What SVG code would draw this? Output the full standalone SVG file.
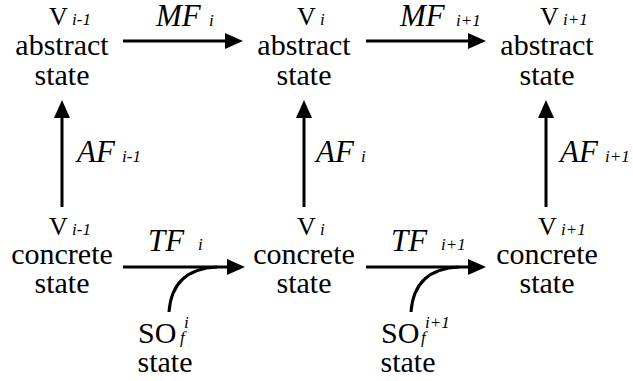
<svg xmlns="http://www.w3.org/2000/svg" width="633" height="381" viewBox="0 0 633 381">
<style>
svg text{font-family:'Liberation Serif','Times New Roman',serif !important;fill:#000}
.t{font-size:30px;text-anchor:middle}
.v{font-size:26px}
.s{font-size:17px;font-style:italic}
.f{font-size:31px;font-style:italic}
.o{font-size:30px}
.c{stroke:#000;stroke-width:3;fill:none}
</style>
<defs>
<marker id="ah" markerUnits="userSpaceOnUse" markerWidth="18" markerHeight="16" refX="0" refY="8" orient="auto" overflow="visible">
<path d="M0,0 L18,8 L0,16 z" fill="#000"/>
</marker>
</defs>
<rect width="633" height="381" fill="#fff"/>
<g id="connectors">
<line class="c" x1="123" y1="41" x2="225" y2="41" marker-end="url(#ah)"/>
<line class="c" x1="366" y1="41" x2="468" y2="41" marker-end="url(#ah)"/>
<line class="c" x1="123" y1="267" x2="227" y2="267" marker-end="url(#ah)"/>
<line class="c" x1="366" y1="267" x2="468" y2="267" marker-end="url(#ah)"/>
<line class="c" x1="62" y1="207" x2="62" y2="118" marker-end="url(#ah)"/>
<line class="c" x1="304" y1="207" x2="304" y2="118" marker-end="url(#ah)"/>
<line class="c" x1="546" y1="207" x2="546" y2="118" marker-end="url(#ah)"/>
<path class="c" d="M169,312 Q172,269 217,267"/>
<path class="c" d="M411,312 Q414,269 459,267"/>
<text class="f" x="156" y="26" style="font-family:'Liberation Serif' !important">MF</text>
<text class="s" x="209" y="26" style="font-family:'Liberation Serif' !important">i</text>
<text class="f" x="400" y="26" style="font-family:'Liberation Serif' !important">MF</text>
<text class="s" x="456" y="26" style="font-family:'Liberation Serif' !important">i+1</text>
<text class="f" x="77" y="162" style="font-family:'Liberation Serif' !important">AF</text>
<text class="s" x="122" y="162" style="font-family:'Liberation Serif' !important">i-1</text>
<text class="f" x="316" y="162" style="font-family:'Liberation Serif' !important">AF</text>
<text class="s" x="361" y="162" style="font-family:'Liberation Serif' !important">i</text>
<text class="f" x="560" y="162" style="font-family:'Liberation Serif' !important">AF</text>
<text class="s" x="605" y="162" style="font-family:'Liberation Serif' !important">i+1</text>
<text class="f" x="148" y="251" style="font-family:'Liberation Serif' !important">TF</text>
<text class="s" x="198" y="250" style="font-family:'Liberation Serif' !important">i</text>
<text class="f" x="391" y="251" style="font-family:'Liberation Serif' !important">TF</text>
<text class="s" x="441" y="250" style="font-family:'Liberation Serif' !important">i+1</text>
</g>
<g id="abs_im1">
<text class="v" x="49" y="25" style="font-family:'Liberation Serif' !important">V</text>
<text class="s" x="72" y="25" style="font-family:'Liberation Serif' !important">i-1</text>
<text class="t" x="62" y="55" style="font-family:'Liberation Serif' !important">abstract</text>
<text class="t" x="62" y="85" style="font-family:'Liberation Serif' !important">state</text>
</g>
<g id="abs_i">
<text class="v" x="297" y="25" style="font-family:'Liberation Serif' !important">V</text>
<text class="s" x="320" y="25" style="font-family:'Liberation Serif' !important">i</text>
<text class="t" x="304" y="55" style="font-family:'Liberation Serif' !important">abstract</text>
<text class="t" x="304" y="85" style="font-family:'Liberation Serif' !important">state</text>
</g>
<g id="abs_ip1">
<text class="v" x="540" y="25" style="font-family:'Liberation Serif' !important">V</text>
<text class="s" x="563" y="25" style="font-family:'Liberation Serif' !important">i+1</text>
<text class="t" x="547" y="55" style="font-family:'Liberation Serif' !important">abstract</text>
<text class="t" x="547" y="85" style="font-family:'Liberation Serif' !important">state</text>
</g>
<g id="con_im1">
<text class="v" x="49" y="235" style="font-family:'Liberation Serif' !important">V</text>
<text class="s" x="72" y="235" style="font-family:'Liberation Serif' !important">i-1</text>
<text class="t" x="62" y="264" style="font-family:'Liberation Serif' !important">concrete</text>
<text class="t" x="62" y="293" style="font-family:'Liberation Serif' !important">state</text>
</g>
<g id="con_i">
<text class="v" x="297" y="235" style="font-family:'Liberation Serif' !important">V</text>
<text class="s" x="320" y="235" style="font-family:'Liberation Serif' !important">i</text>
<text class="t" x="304" y="264" style="font-family:'Liberation Serif' !important">concrete</text>
<text class="t" x="304" y="293" style="font-family:'Liberation Serif' !important">state</text>
</g>
<g id="con_ip1">
<text class="v" x="538" y="235" style="font-family:'Liberation Serif' !important">V</text>
<text class="s" x="561" y="235" style="font-family:'Liberation Serif' !important">i+1</text>
<text class="t" x="547" y="264" style="font-family:'Liberation Serif' !important">concrete</text>
<text class="t" x="547" y="293" style="font-family:'Liberation Serif' !important">state</text>
</g>
<g id="so_i">
<text class="o" x="138" y="343" style="font-family:'Liberation Serif' !important">SO</text>
<text class="s" x="184" y="328" style="font-family:'Liberation Serif' !important">i</text>
<text class="s" x="180" y="343" style="font-family:'Liberation Serif' !important">f</text>
<text class="t" x="165" y="372" style="font-family:'Liberation Serif' !important">state</text>
</g>
<g id="so_ip1">
<text class="o" x="381" y="343" style="font-family:'Liberation Serif' !important">SO</text>
<text class="s" x="425" y="328" style="font-family:'Liberation Serif' !important">i+1</text>
<text class="s" x="421" y="343" style="font-family:'Liberation Serif' !important">f</text>
<text class="t" x="408" y="372" style="font-family:'Liberation Serif' !important">state</text>
</g>
</svg>
